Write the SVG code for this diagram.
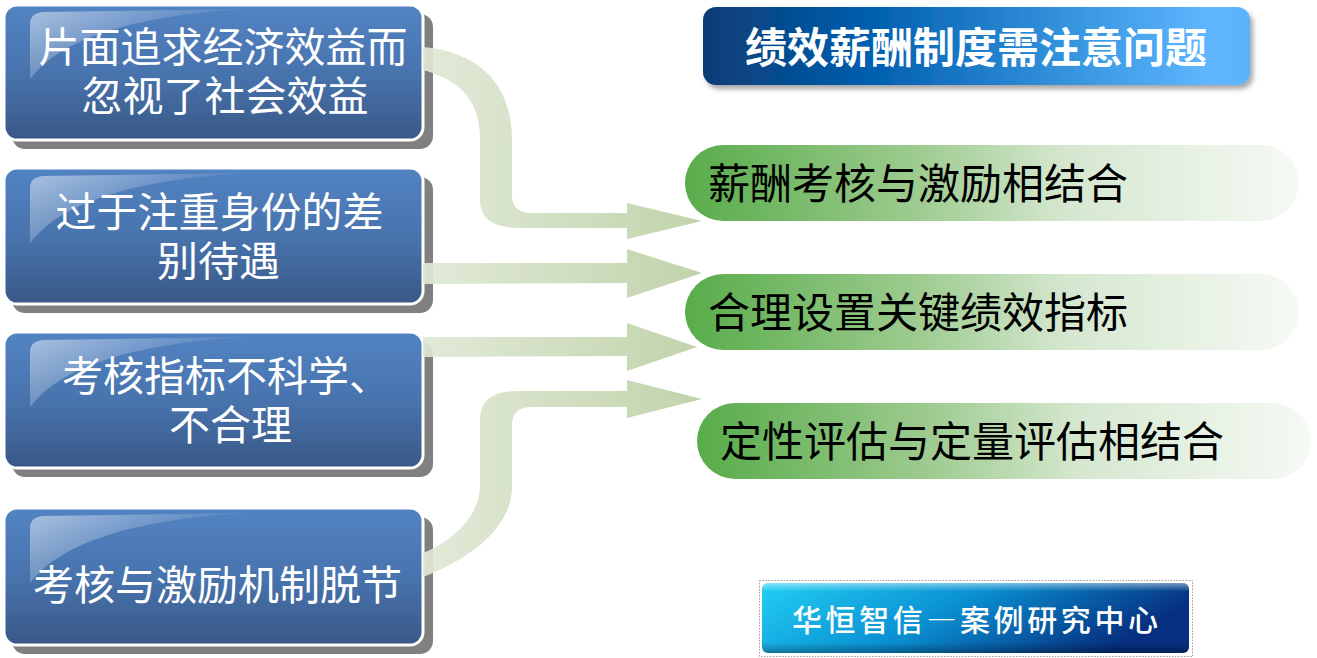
<svg xmlns="http://www.w3.org/2000/svg" width="1317" height="658" viewBox="0 0 1317 658" xml:lang="zh-CN">
<defs>
<linearGradient id="boxFill" x1="0" y1="0" x2="0" y2="1">
<stop offset="0" stop-color="#5283c2"/>
<stop offset="0.5" stop-color="#4874ae"/>
<stop offset="1" stop-color="#395886"/>
</linearGradient>
<linearGradient id="gloss" x1="0" y1="0" x2="1" y2="0.6">
<stop offset="0" stop-color="#ffffff" stop-opacity="0.5"/>
<stop offset="0.6" stop-color="#ffffff" stop-opacity="0.1"/>
<stop offset="1" stop-color="#ffffff" stop-opacity="0"/>
</linearGradient>
<linearGradient id="arrowFill" gradientUnits="userSpaceOnUse" x1="424" y1="0" x2="700" y2="0">
<stop offset="0" stop-color="#dfe8d5"/>
<stop offset="1" stop-color="#bccfa4"/>
</linearGradient>
<linearGradient id="titleFill" x1="0" y1="0" x2="1" y2="0">
<stop offset="0" stop-color="#0b3c74"/>
<stop offset="0.3" stop-color="#005eae"/>
<stop offset="0.7" stop-color="#3a98e2"/>
<stop offset="0.93" stop-color="#5fb7ff"/>
<stop offset="1" stop-color="#5ab2fa"/>
</linearGradient>
<linearGradient id="pillFill" x1="0" y1="0" x2="1" y2="0">
<stop offset="0" stop-color="#58ac4a"/>
<stop offset="0.38" stop-color="#9ecb90"/>
<stop offset="0.62" stop-color="#d5e7cf"/>
<stop offset="1" stop-color="#f6faf5"/>
</linearGradient>
<linearGradient id="footFill" x1="0" y1="0" x2="1" y2="0.3">
<stop offset="0" stop-color="#22cff4"/>
<stop offset="0.5" stop-color="#0a90d2"/>
<stop offset="1" stop-color="#06307f"/>
</linearGradient>
<linearGradient id="footShade" x1="0" y1="0" x2="0" y2="1">
<stop offset="0" stop-color="#ffffff" stop-opacity="0.45"/>
<stop offset="0.12" stop-color="#ffffff" stop-opacity="0"/>
<stop offset="0.85" stop-color="#000000" stop-opacity="0"/>
<stop offset="1" stop-color="#000000" stop-opacity="0.3"/>
</linearGradient>
<filter id="softShadow" x="-5%" y="-20%" width="115%" height="150%">
<feDropShadow dx="3" dy="4" stdDeviation="2.5" flood-color="#000000" flood-opacity="0.35"/>
</filter>
</defs>
<style>
.shadow{fill:#808080}
.box{fill:url(#boxFill);stroke:#ffffff;stroke-width:3}
.gl{fill:url(#gloss)}
.bt{font-family:"Noto Sans CJK SC","Noto Sans",sans-serif;font-size:41px;fill:#ffffff}
.arrow{fill:url(#arrowFill);opacity:0.92}
.pill{fill:url(#pillFill)}
.pt{font-family:"Noto Sans CJK SC","Noto Sans",sans-serif;font-size:42px;font-weight:400;fill:#000000}
.tt{font-family:"Noto Sans CJK SC","Noto Sans",sans-serif;font-size:42px;font-weight:700;fill:#ffffff}
.ft{font-family:"Noto Sans CJK SC","Noto Sans",sans-serif;font-size:30px;font-weight:500;fill:#ffffff;font-feature-settings:"fwid" 1}
</style>

<g id="box1">
<rect class="shadow" x="12" y="14" width="421" height="135" rx="13"/>
<rect class="box" x="4" y="5" width="419" height="135" rx="13"/>
<path class="gl" d="M30,80 V24 Q30,13 43,12 L250,9 C150,14 62,34 30,80 Z"/>
<text class="bt" text-anchor="middle"><tspan x="223" y="62">片面追求经济效益而</tspan><tspan x="225" y="111">忽视了社会效益</tspan></text>
</g>

<g id="box2">
<rect class="shadow" x="12" y="177" width="421" height="136" rx="13"/>
<rect class="box" x="4" y="168" width="419" height="136" rx="13"/>
<path class="gl" d="M30,244 V188 Q30,177 43,176 L250,173 C150,178 62,198 30,244 Z"/>
<text class="bt" text-anchor="middle"><tspan x="219.5" y="227">过于注重身份的差</tspan><tspan x="218.5" y="276">别待遇</tspan></text>
</g>

<g id="box3">
<rect class="shadow" x="12" y="341" width="421" height="136" rx="13"/>
<rect class="box" x="4" y="332" width="419" height="136" rx="13"/>
<path class="gl" d="M30,408 V352 Q30,341 43,340 L250,337 C150,342 62,362 30,408 Z"/>
<text class="bt"><tspan x="62" y="391">考核指标不科学、</tspan><tspan x="169" y="440">不合理</tspan></text>
</g>

<g id="box4">
<rect class="shadow" x="12" y="517" width="421" height="137" rx="13"/>
<rect class="box" x="4" y="508" width="419" height="137" rx="13"/>
<path class="gl" d="M30,584 V528 Q30,517 43,516 L250,513 C150,518 62,538 30,584 Z"/>
<text class="bt" x="217.5" y="600" text-anchor="middle">考核与激励机制脱节</text>
</g>

<g id="connectors">
<path class="arrow" d="M423,47 C480,52 512,85 512,140 L512,195 Q512,213 532,213 L627,213 L627,203 L702,221 L627,239 L627,228 L520,228 Q480,228 480,200 L480,140 C480,100 460,80 423,70 Z"/>
<path class="arrow" d="M423,263 L627,263 L627,249 L702,273 L627,298 L627,283 L423,284 Z"/>
<path class="arrow" d="M423,337 L627,337 L627,323 L697,347 L627,371 L627,356 L423,357 Z"/>
<path class="arrow" d="M423,553 C455,540 480,515 480,485 L480,420 Q480,391 517,391 L627,391 L627,380 L702,399 L627,418 L627,407 L532,407 Q512,407 512,425 L512,487 C512,522 480,555 423,577 Z"/>
</g>

<g id="title">
<rect x="703" y="7" width="547" height="78" rx="13" fill="url(#titleFill)" filter="url(#softShadow)"/>
<text class="tt" x="976" y="63" text-anchor="middle">绩效薪酬制度需注意问题</text>
</g>

<g id="pill1">
<rect class="pill" x="685" y="145" width="614" height="76" rx="38"/>
<text class="pt" x="708" y="199">薪酬考核与激励相结合</text>
</g>

<g id="pill2">
<rect class="pill" x="685" y="274" width="614" height="76" rx="38"/>
<text class="pt" x="708" y="328">合理设置关键绩效指标</text>
</g>

<g id="pill3">
<rect class="pill" x="697" y="403" width="614" height="76" rx="38"/>
<text class="pt" x="720" y="457">定性评估与定量评估相结合</text>
</g>

<g id="footer">
<rect x="759.5" y="580.5" width="433" height="76" fill="none" stroke="#9a9a9a" stroke-width="1" stroke-dasharray="1.5,1.5"/>
<rect x="762" y="583" width="427" height="70" rx="6" fill="url(#footFill)"/>
<rect x="762" y="583" width="427" height="70" rx="6" fill="url(#footShade)"/>
<text class="ft" x="975" y="631" text-anchor="middle" textLength="366" lengthAdjust="spacing">华恒智信—案例研究中心</text>
</g>
</svg>
